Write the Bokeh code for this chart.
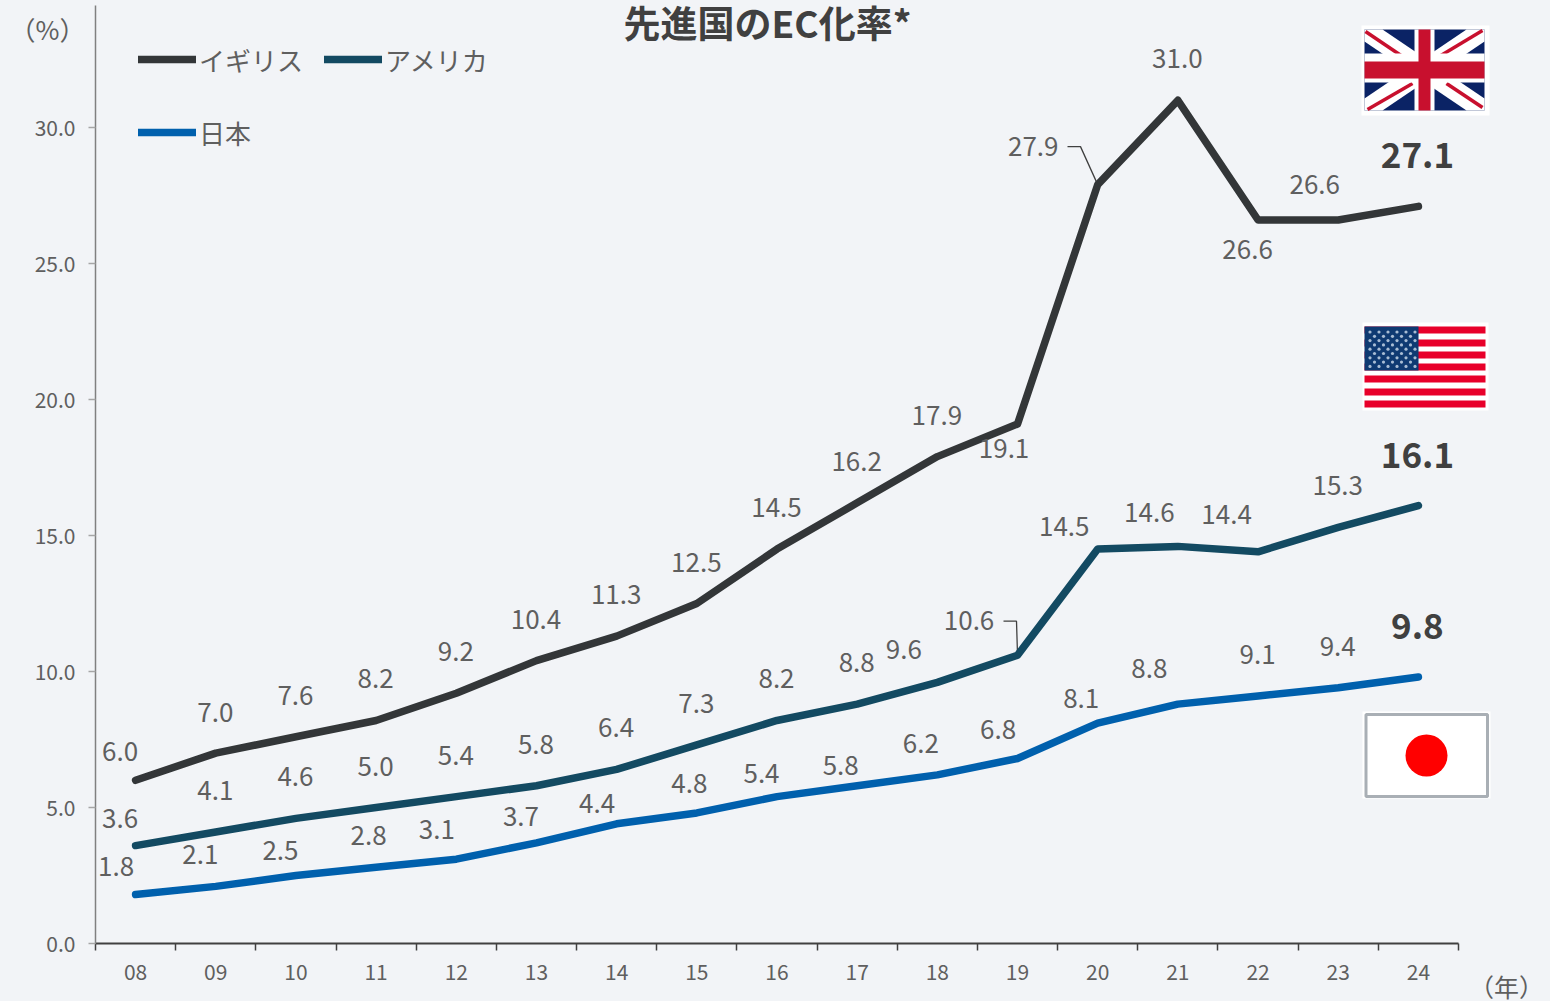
from bokeh.plotting import figure
from bokeh.models import (ColumnDataSource, Range1d, FixedTicker, NumeralTickFormatter,
                          Legend, LegendItem)
from bokeh.core.properties import value
from bokeh.embed import file_html
from bokeh.resources import INLINE

years = ["08","09","10","11","12","13","14","15","16","17","18","19","20","21","22","23","24"]
uk = [6.0,7.0,7.6,8.2,9.2,10.4,11.3,12.5,14.5,16.2,17.9,19.1,27.9,31.0,26.6,26.6,27.1]
us = [3.6,4.1,4.6,5.0,5.4,5.8,6.4,7.3,8.2,8.8,9.6,10.6,14.5,14.6,14.4,15.3,16.1]
jp = [1.8,2.1,2.5,2.8,3.1,3.7,4.4,4.8,5.4,5.8,6.2,6.8,8.1,8.8,9.1,9.4,9.8]
y_ticks = [0, 5, 10, 15, 20, 25, 30]

FONT = "Noto Sans CJK JP"
BG = "#f2f4f7"
TXT = "#5f5f5f"
UK_C, US_C, JP_C = "#333638", "#134a62", "#0060ad"

# label placement, px from the data point
uk_off = [(-15,-28),(0,-40),(0,-41),(0,-41),(0,-41),(0,-41),(0,-41),(0,-41),(0,-41),(0,-41),(0,-41),
          (-13,25),(-64,-38),(0,-41),(-10,30),(-23,-35),(0,-50)]
us_off = [(-15,-27),(0,-41),(0,-41),(0,-41),(0,-41),(0,-41),(0,-41),(0,-41),(0,-41),(0,-41),(-33,-32),
          (-48,-34),(-33,-22),(-28,-33),(-31,-37),(0,-41),(0,-50)]
jp_off = [(-19,-28),(-15,-31),(-15,-25),(-7,-31),(-19,-29),(-15,-26),(-19,-20),(-7,-29),(-15,-23),
          (-16,-20),(-16,-31),(-19,-29),(-16,-24),(-28,-35),(0,-41),(0,-41),(0,-50)]

# page geometry: the plot area fills the page, the axes are placed inside it
W, H = 1550, 1001
FL, FR, FB = 95, 1458, 943
SX = (FR - FL) / len(years)
SY = (943 - 127) / 30

def dx(px): return (px - FL) / SX
def dy(py): return (FB - py) / SY

p = figure(width=W, height=H, output_backend="svg", toolbar_location=None,
           x_range=Range1d(dx(0), dx(W)), y_range=Range1d(dy(H), dy(0)),
           min_border=0, background_fill_color=BG, border_fill_color=BG, outline_line_color=None)
p.grid.visible = False

xs = [i + 0.5 for i in range(len(years))]

# axes
xa = p.xaxis[0]
xa.fixed_location = 0
xa.bounds = (0, len(years))
xa.ticker = FixedTicker(ticks=xs, minor_ticks=list(range(len(years) + 1)))
xa.major_label_overrides = {x: y for x, y in zip(xs, years)}
xa.major_tick_line_color = None
xa.major_tick_out = 0
xa.major_tick_in = 0
xa.minor_tick_out = 7
xa.minor_tick_in = 0
xa.minor_tick_line_color = "#404040"
xa.minor_tick_line_width = 1.5
xa.axis_line_color = "#404040"
xa.axis_line_width = 2
xa.major_label_standoff = 13
xa.major_label_text_font = FONT
xa.major_label_text_font_size = "21px"
xa.major_label_text_color = TXT

ya = p.yaxis[0]
ya.fixed_location = 0
ya.bounds = (0, dy(5))
ya.ticker = FixedTicker(ticks=y_ticks, minor_ticks=[])
ya.formatter = NumeralTickFormatter(format="0.0")
ya.major_tick_out = 7
ya.major_tick_in = 0
ya.major_tick_line_color = "#a6a6a6"
ya.major_tick_line_width = 1.5
ya.axis_line_color = "#808080"
ya.axis_line_width = 1.5
ya.major_label_standoff = 13
ya.major_label_text_font = FONT
ya.major_label_text_font_size = "21px"
ya.major_label_text_color = TXT

# leader lines
p.line([dx(1067), dx(1080), 12.5], [uk[12] + 38 / SY, uk[12] + 38 / SY, uk[12]],
       line_color="#404040", line_width=1.3)
p.line([dx(1003), dx(1016), 11.5], [us[11] + 34 / SY, us[11] + 34 / SY, us[11]],
       line_color="#404040", line_width=1.3)

# series
r_uk = p.line(xs, uk, line_color=UK_C, line_width=7.5, line_join="round", line_cap="round")
r_us = p.line(xs, us, line_color=US_C, line_width=7.5, line_join="round", line_cap="round")
r_jp = p.line(xs, jp, line_color=JP_C, line_width=7.5, line_join="round", line_cap="round")

# data labels
for vals, off in ((uk, uk_off), (us, us_off), (jp, jp_off)):
    n = len(vals) - 1
    src = ColumnDataSource(dict(x=xs[:n], y=vals[:n], t=[f"{v:.1f}" for v in vals[:n]],
                                ox=[o[0] - 0.5 for o in off[:n]], oy=[o[1] - 0.5 for o in off[:n]]))
    p.text("x", "y", text="t", source=src, x_offset="ox", y_offset="oy",
           text_align="center", text_baseline="middle", text_font=value(FONT),
           text_font_size="26px", text_color=TXT)
    last = ColumnDataSource(dict(x=xs[n:], y=vals[n:], t=[f"{vals[n]:.1f}"],
                                 ox=[off[n][0] - 1], oy=[off[n][1] - 1]))
    p.text("x", "y", text="t", source=last, x_offset="ox", y_offset="oy",
           text_align="center", text_baseline="middle", text_font=value(FONT),
           text_font_size="35px", text_font_style="bold", text_color="#404040")

# UK flag
p.quad(left=[dx(1361)], right=[dx(1489)], top=[dy(25)], bottom=[dy(115)], fill_color="white", line_color=None)
L, R, T, B = 1364, 1484, 29, 110
p.quad(left=[dx(L)], right=[dx(R)], top=[dy(T)], bottom=[dy(B)], fill_color="#0b2365", line_color=None)
p.patches([[dx(v) for v in (L, L+18, R, R, R-18, L)], [dx(v) for v in (R, R-18, L, L, L+18, R)]],
          [[dy(v) for v in (T, T, B-12, B, B, T+12)], [dy(v) for v in (T, T, B-12, B, B, T+12)]],
          fill_color="white", line_color=None)
for a, b, c, d in ((1365, 31, 1402, 56), (1482, 30, 1437, 57), (1367, 109, 1412, 83), (1446, 83, 1482, 107)):
    p.line([dx(a), dx(c)], [dy(b), dy(d)], line_color="#c8102e", line_width=3.5)
p.quad(left=[dx(1414), dx(L)], right=[dx(1434), dx(R)], top=[dy(T), dy(53)], bottom=[dy(B), dy(82)],
       fill_color="white", line_color=None)
p.quad(left=[dx(1418), dx(L)], right=[dx(1430), dx(R)], top=[dy(T), dy(61)], bottom=[dy(B), dy(78)],
       fill_color="#c8102e", line_color=None)

# US flag
p.quad(left=[dx(1362)], right=[dx(1488)], top=[dy(322)], bottom=[dy(410)], fill_color="white", line_color=None)
stripe_tops = [326, 339, 351, 363, 375, 388, 400]
p.quad(left=[dx(1364)] * 7, right=[dx(1485)] * 7, top=[dy(t) for t in stripe_tops],
       bottom=[dy(t + 7) for t in stripe_tops], fill_color="#e8002a", line_color=None)
p.quad(left=[dx(1364)], right=[dx(1418)], top=[dy(326)], bottom=[dy(370)], fill_color="#0f3a72", line_color=None)
sx, sy = [], []
for r in range(9):
    for c in range(6 if r % 2 == 0 else 5):
        sx.append(dx(1369.5 + c * 9 + (4.5 if r % 2 else 0)))
        sy.append(dy(331.5 + r * 4.3))
p.scatter(sx, sy, size=3.2, marker="circle", fill_color="#a9bdd4", line_color=None)

# Japan flag
p.quad(left=[dx(1362)], right=[dx(1490)], top=[dy(711)], bottom=[dy(798)], fill_color="white", line_color=None)
p.quad(left=[dx(1365.5)], right=[dx(1487)], top=[dy(714)], bottom=[dy(796)], fill_color="white",
       line_color="#a9afb5", line_width=3)
p.scatter([dx(1426)], [dy(755)], size=42, marker="circle", fill_color="#ff0000", line_color=None)

# legend
leg = Legend(items=[LegendItem(label="イギリス", renderers=[r_uk]),
                    LegendItem(label="アメリカ", renderers=[r_us]),
                    LegendItem(label="日本", renderers=[r_jp])],
             ncols=2, location=(138, H - 158), orientation="horizontal",
             glyph_width=58, glyph_height=52, label_standoff=3, spacing=21, padding=0, margin=0,
             label_text_font=FONT, label_text_font_size="26px", label_text_color=TXT,
             label_height=52, border_line_color=None, background_fill_alpha=0)
p.add_layout(leg, "center")

# title and units
def label(text, px, py, size, style="normal", color=TXT):
    p.text([dx(px)], [dy(py)], text=[text], text_font=value(FONT), text_font_size=size,
           text_font_style=style, text_color=color, text_align="center", text_baseline="middle")

label("先進国のEC化率*", 767, 21, "37px", "bold", "#404040")
label("（%）", 47, 28, "26px")
label("（年）", 1506, 985, "25px")

html = file_html(p, INLINE).replace("<head>", "<head><style>html,body{background:#f2f4f7}</style>", 1)
open("out.html", "w").write(html)
